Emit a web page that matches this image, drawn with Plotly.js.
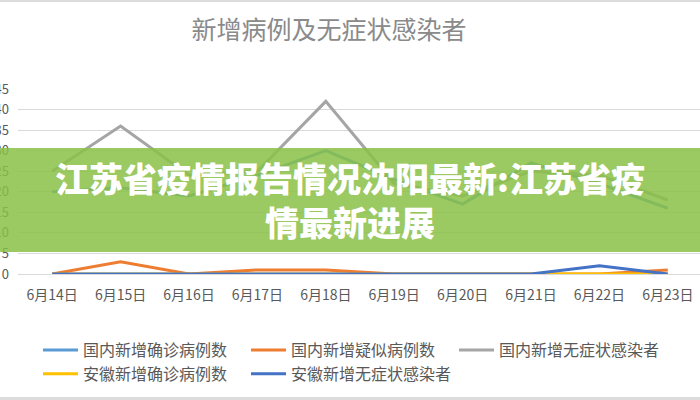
<!DOCTYPE html>
<html><head><meta charset="utf-8">
<script src="https://cdn.plot.ly/plotly-3.0.1.min.js"></script>
<style>
html,body{margin:0;padding:0;width:700px;height:400px;overflow:hidden;background:#fff;}
#wrap{position:relative;width:700px;height:400px;overflow:hidden;}
#chart{position:absolute;left:-30px;top:0;width:740px;height:400px;}
#topline{position:absolute;left:0;top:0;width:700px;height:2px;background:#dcdcdc;}
#botline{position:absolute;left:0;top:397px;width:700px;height:3px;background:#dcdcdc;}
</style></head>
<body><div id="wrap"><div id="chart"></div><div id="topline"></div><div id="botline"></div></div>
<script>
const categories = ['6月14日','6月15日','6月16日','6月17日','6月18日','6月19日','6月20日','6月21日','6月22日','6月23日'];
const domesticConfirmed = [20, 21, 19, 24, 30, 23, 17, 27, 22, 16];
const domesticSuspected = [0, 3, 0, 1, 1, 0, 0, 0, 0, 1];
const domesticAsymptomatic = [25, 36, 24, 25, 42, 22, 19, 25, 24, 18];
const anhuiConfirmed = [0, 0, 0, 0, 0, 0, 0, 0, 0, 0];
const anhuiAsymptomatic = [0, 0, 0, 0, 0, 0, 0, 0, 2, 0];
const seriesNames = ['国内新增确诊病例数','国内新增疑似病例数','国内新增无症状感染者','安徽新增确诊病例数','安徽新增无症状感染者'];
const yTicks = [0,5,10,15,20,25,30,35,40,45];
const titleText = '新增病例及无症状感染者';
const bannerText = '江苏省疫情报告情况沈阳最新:江苏省疫<br>情最新进展';

const colors = ['#5B9BD5','#ED7D31','#A5A5A5','#FFC000','#4472C4'];
const allSeries = [domesticConfirmed, domesticSuspected, domesticAsymptomatic, anhuiConfirmed, anhuiAsymptomatic];
const xIdx = categories.map((c,i)=>i);

const traces = allSeries.map((ys,k)=>({
  type:'scatter', mode:'lines', x:xIdx, y:ys, name:seriesNames[k],
  line:{color:colors[k], width:3}, hoverinfo:'skip'
}));

const layout = {
  width:740, height:400,
  margin:{l:48, r:8, t:89, b:126},
  paper_bgcolor:'#fff', plot_bgcolor:'#fff',
  font:{family:'"Noto Sans CJK SC", "Noto Sans", sans-serif', color:'#595959'},
  title:{text:titleText, xref:'container', x:359/740, xanchor:'center', yref:'container', y:1-30/400, yanchor:'middle',
    font:{size:25, color:'#8a8a8a', family:'"Noto Sans CJK SC", sans-serif'}},
  xaxis:{range:[-0.5,9.5], tickvals:xIdx, ticktext:categories, showgrid:false, zeroline:false,
    showline:true, linecolor:'#d9d9d9', linewidth:1, ticks:'', tickfont:{size:14, color:'#595959'}, ticklabelstandoff:8, fixedrange:true},
  yaxis:{range:[0,45], tickvals:yTicks, showgrid:true, gridcolor:'#d9d9d9', gridwidth:1, zeroline:false,
    showline:false, ticks:'', tickfont:{size:13, color:'#595959'}, ticklabelstandoff:8, fixedrange:true},
  showlegend:true,
  legend:{orientation:'h', xref:'container', yref:'container', x:68/740, xanchor:'left', y:1-333/400, yanchor:'top',
    entrywidth:158, entrywidthmode:'pixels', itemwidth:35, font:{size:16, color:'#595959'}, traceorder:'normal', tracegroupgap:0},
  shapes:[{type:'rect', xref:'paper', yref:'paper', x0:-0.2, x1:1.2, y0:22/185, y1:126/185,
    fillcolor:'rgba(138,192,70,0.85)', line:{width:0}, layer:'above'}],
  annotations:[{xref:'paper', yref:'paper', x:(380-48)/684, y:(274-199.5)/185, xanchor:'center', yanchor:'middle',
    text:bannerText, showarrow:false, align:'center',
    font:{size:34, color:'#ffffff', family:'"Noto Sans CJK SC", sans-serif', weight:900}}]
};
Plotly.newPlot('chart', traces, layout, {displayModeBar:false, staticPlot:true});
</script></body></html>
